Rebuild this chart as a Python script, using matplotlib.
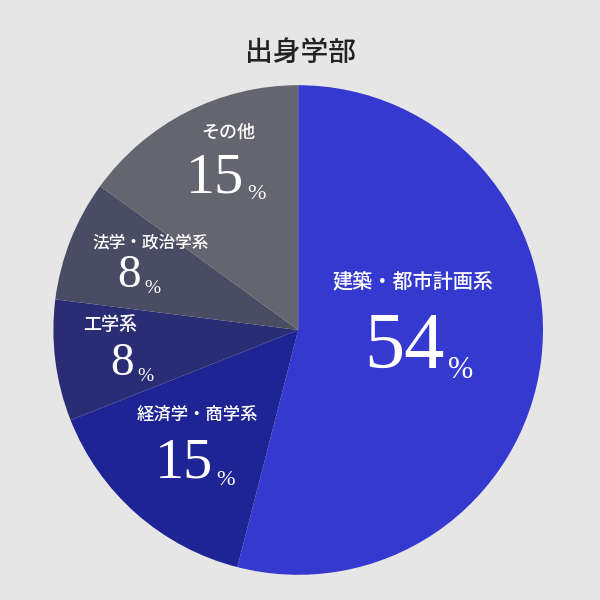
import matplotlib.pyplot as plt

plt.rcParams['font.family'] = ['Noto Sans CJK JP', 'DejaVu Sans']

# Data
title = '出身学部'
categories = ['建築・都市計画系', '経済学・商学系', '工学系', '法学・政治学系', 'その他']
shares = [54, 15, 8, 8, 15]
colors = ['#3539d0', '#1e2494', '#2b2d74', '#4a4c64', '#64656e']

# label anchors in pie units (radius = 1)
label_pos = [(0.47, 0.196), (-0.412, -0.347), (-0.767, 0.02), (-0.604, 0.359), (-0.286, 0.804)]
num_pos = [(0.435, -0.155), (-0.465, -0.604), (-0.718, -0.184), (-0.69, 0.176), (-0.339, 0.563)]
cat_size = [14.5, 12.5, 13, 12, 13]
num_size = [58, 42, 34, 34, 42]
pct_size = [22, 16, 14, 14, 16]

fig = plt.figure(figsize=(6, 6), dpi=100)
fig.patch.set_facecolor('#e6e6e6')
ax = fig.add_axes([0.497 - 0.408, 0.45 - 0.408, 0.816, 0.816])
ax.set_facecolor('none')

ax.pie(shares, colors=colors, startangle=90, counterclock=False,
       radius=1.0, wedgeprops=dict(linewidth=0))
ax.set_xlim(-1, 1)
ax.set_ylim(-1, 1)
ax.set_aspect('equal')
ax.axis('off')

for (x, y), (nx, ny), cat, val, cs, ns, ps in zip(label_pos, num_pos, categories, shares,
                                                  cat_size, num_size, pct_size):
    ax.text(x, y, cat, color='white', fontsize=cs, fontweight='medium',
            ha='center', va='center')
    num = ax.text(nx, ny, str(val), color='white', fontsize=ns,
                  family='Liberation Serif', ha='center', va='baseline')
    ax.annotate('%', xy=(1, 0), xycoords=num, xytext=(2, 0),
                textcoords='offset points', color='white', fontsize=ps,
                family='Liberation Serif', ha='left', va='bottom')

fig.text(0.5, 0.913, title, ha='center', va='center', fontsize=20,
         fontweight='medium', color='#222222')

fig.savefig('out.png', dpi=100, facecolor=fig.get_facecolor())
